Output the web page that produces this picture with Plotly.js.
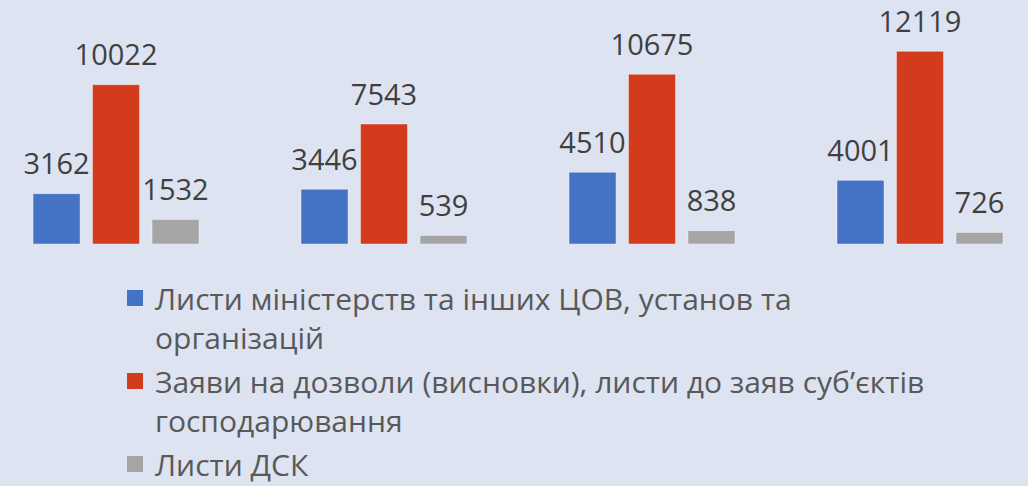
<!DOCTYPE html>
<html>
<head>
<meta charset="utf-8">
<script src="https://cdn.plot.ly/plotly-3.0.1.min.js"></script>
<style>html,body{margin:0;padding:0;background:#dde3f1;}</style>
</head>
<body>
<div id="chart" style="width:1028px;height:486px;"></div>
<script>
const categories = ['Період 1', 'Період 2', 'Період 3', 'Період 4'];
const seriesNames = [
  'Листи міністерств та інших ЦОВ, установ та<br>організацій',
  'Заяви на дозволи (висновки), листи до заяв суб’єктів<br>господарювання',
  'Листи ДСК'
];
const lettersMinistries = [3162, 3446, 4510, 4001];
const permitApplications = [10022, 7543, 10675, 12119];
const dskLetters = [1532, 539, 838, 726];
const colors = ['#4472c4', '#d23c1c', '#a5a5a5'];

const allSeries = [lettersMinistries, permitApplications, dskLetters];
const fontFamily = '"Open Sans", "Segoe UI", "DejaVu Sans", sans-serif';

const barTraces = allSeries.map((vals, i) => ({
  type: 'bar',
  name: seriesNames[i],
  x: categories,
  y: vals,
  offsetgroup: String(i),
  showlegend: false,
  marker: {color: colors[i], line: {color: 'rgba(255,255,255,0.4)', width: 1}},
  hoverinfo: 'skip'
}));

const labelTraces = allSeries.map((vals, i) => ({
  type: 'scatter',
  mode: 'markers+text',
  x: categories,
  y: vals,
  offsetgroup: String(i),
  text: vals.map(String),
  textposition: 'top center',
  textfont: {family: fontFamily, size: 29, color: '#404040'},
  marker: {size: 18, opacity: 0},
  showlegend: false,
  hoverinfo: 'skip',
  cliponaxis: false
}));

// legend entries (square swatches), no drawn points
const legendTraces = allSeries.map((vals, i) => ({
  type: 'scatter',
  mode: 'markers',
  name: seriesNames[i],
  legendgroup: 'g' + i,
  x: [categories[0]],
  y: [null],
  offsetgroup: String(i),
  marker: {symbol: 'square', size: 16, color: colors[i]},
  showlegend: true,
  hoverinfo: 'skip'
}));

const layout = {
  width: 1028,
  height: 486,
  margin: {l: 0, r: 0, t: 0, b: 0, autoexpand: false},
  paper_bgcolor: '#dde3f1',
  plot_bgcolor: '#dde3f1',
  font: {family: fontFamily},
  barmode: 'group',
  bargap: 0.334,
  bargroupgap: 0.21,
  scattermode: 'group',
  scattergap: 0.334,
  showlegend: true,
  xaxis: {
    type: 'category',
    domain: [0, 1],
    range: [-0.433, 3.403],
    showticklabels: false,
    showgrid: false,
    zeroline: false,
    showline: false,
    fixedrange: true
  },
  yaxis: {
    domain: [0.498, 1],
    range: [0, 15346],
    visible: false,
    showgrid: false,
    zeroline: false,
    fixedrange: true
  },
  legend: {
    x: 115 / 1028,
    xanchor: 'left',
    y: (486 - 272) / 486,
    yanchor: 'top',
    valign: 'top',
    bgcolor: 'rgba(0,0,0,0)',
    borderwidth: 0,
    font: {family: fontFamily, size: 30, color: '#595959'},
    traceorder: 'grouped',
    tracegroupgap: 2
  }
};

Plotly.newPlot('chart', barTraces.concat(labelTraces, legendTraces), layout, {displayModeBar: false, staticPlot: true});
</script>
</body>
</html>
